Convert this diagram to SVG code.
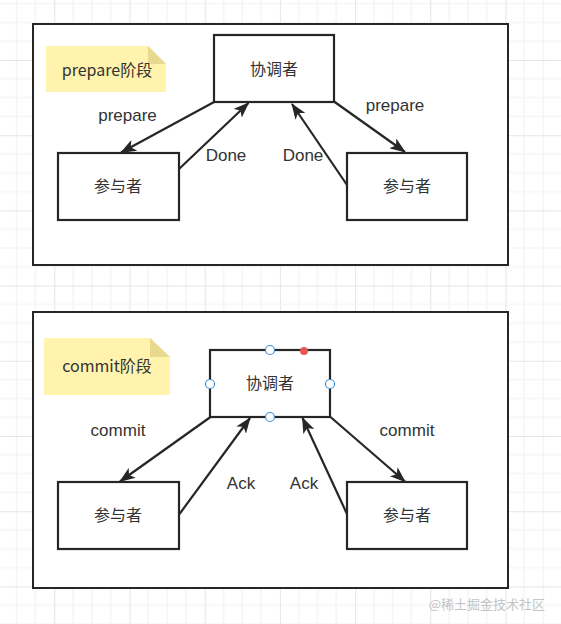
<svg xmlns="http://www.w3.org/2000/svg" width="561" height="624" viewBox="0 0 561 624">
<defs>
<pattern id="grid" patternUnits="userSpaceOnUse" x="54.3" y="60" width="75.2" height="75.2">
<rect width="75.2" height="75.2" fill="#ffffff"/>
<path d="M18.8 0V75.2M37.6 0V75.2M56.4 0V75.2M0 18.8H75.2M0 37.6H75.2M0 56.4H75.2" stroke="#f1f1f1" stroke-width="1" fill="none"/>
<path d="M0.5 0V75.2M0 0.5H75.2" stroke="#e6e6e6" stroke-width="1" fill="none"/>
</pattern>
<marker id="ah" markerUnits="userSpaceOnUse" markerWidth="16" markerHeight="12" viewBox="0 0 16 12" refX="15" refY="6" orient="auto">
<path d="M0 0L16 6L0 12L4 6Z" fill="#262626"/>
</marker>
</defs>
<style>
.frame{fill:#ffffff;stroke:#262626;stroke-width:2}
.node{fill:#ffffff;stroke:#262626;stroke-width:2.2}
.note{fill:#fff3ad}
.fold{fill:#e8d98f}
.t{font-family:"Liberation Sans","Noto Sans CJK SC",sans-serif;font-size:17px;fill:#333333;text-anchor:middle}
.c{font-family:"Noto Sans CJK SC","Liberation Sans",sans-serif;font-size:16px;fill:#333333;text-anchor:middle}
.edge{stroke:#262626;stroke-width:2.2;fill:none;marker-end:url(#ah)}
.h{fill:#ffffff;stroke:#3f8fd8;stroke-width:1.2}
</style>
<rect width="561" height="624" fill="url(#grid)"/>

<g id="frame1"><rect class="frame" x="33" y="24" width="475" height="241"/></g>
<g id="frame2"><rect class="frame" x="33" y="312" width="475" height="276"/></g>

<g id="note1">
<path class="note" d="M46 46H148L166 64V92H46Z"/>
<path class="fold" d="M148 46L166 64H148Z"/>
<text class="c" x="107" y="76" font-size="17">prepare阶段</text>
</g>
<g id="coord1">
<rect class="node" x="214" y="35" width="120" height="67"/>
<text class="c" x="274" y="75">协调者</text>
</g>
<g id="part1l">
<rect class="node" x="58" y="153" width="121" height="67"/>
<text class="c" x="118" y="192">参与者</text>
</g>
<g id="part1r">
<rect class="node" x="347" y="153" width="120" height="67"/>
<text class="c" x="407" y="192">参与者</text>
</g>

<g id="note2">
<path class="note" d="M44 338H150L170 357V395H44Z"/>
<path class="fold" d="M150 338L170 357H150Z"/>
<text class="c" x="107" y="372" font-size="17">commit阶段</text>
</g>
<g id="coord2">
<rect class="node" x="210" y="350" width="120" height="67"/>
<text class="c" x="270" y="389">协调者</text>
<circle class="h" cx="270" cy="350" r="4.5"/>
<circle class="h" cx="210" cy="384" r="4.5"/>
<circle class="h" cx="330" cy="384" r="4.5"/>
<circle class="h" cx="270" cy="417" r="4.5"/>
<circle cx="304" cy="351" r="4" fill="#e85555"/>
</g>
<g id="part2l">
<rect class="node" x="58" y="482" width="121" height="67"/>
<text class="c" x="118" y="521">参与者</text>
</g>
<g id="part2r">
<rect class="node" x="347" y="482" width="120" height="67"/>
<text class="c" x="407" y="521">参与者</text>
</g>

<g id="connectors">
<line class="edge" x1="215" y1="101.5" x2="121" y2="152.5"/>
<line class="edge" x1="179" y1="169" x2="248.5" y2="103"/>
<line class="edge" x1="334" y1="101.5" x2="405" y2="152"/>
<line class="edge" x1="347" y1="185" x2="292" y2="104"/>
<line class="edge" x1="210.5" y1="417" x2="120" y2="481.5"/>
<line class="edge" x1="179.5" y1="514" x2="250" y2="418"/>
<line class="edge" x1="330.5" y1="417" x2="405" y2="481.5"/>
<line class="edge" x1="347" y1="514" x2="302.5" y2="418"/>
<text class="t" x="127.5" y="121">prepare</text>
<text class="t" x="226" y="161">Done</text>
<text class="t" x="395" y="111">prepare</text>
<text class="t" x="303" y="161">Done</text>
<text class="t" x="118" y="436">commit</text>
<text class="t" x="241" y="489">Ack</text>
<text class="t" x="407" y="436">commit</text>
<text class="t" x="304" y="489">Ack</text>
</g>

<text x="545" y="609" text-anchor="end" font-family="Noto Sans CJK SC,sans-serif" font-size="13" fill="#c4c4c4">@稀土掘金技术社区</text>
</svg>
